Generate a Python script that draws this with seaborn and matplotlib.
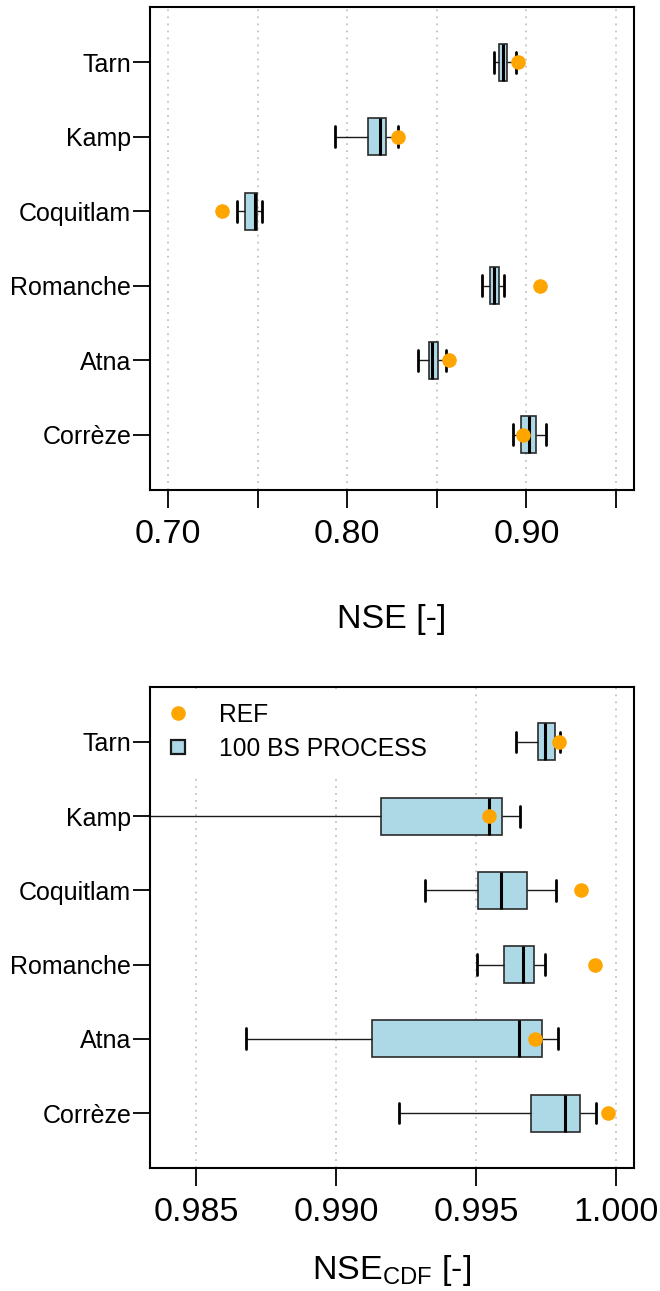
import numpy as np
import pandas as pd
import matplotlib
matplotlib.use("Agg")
import matplotlib.pyplot as plt
from matplotlib.lines import Line2D
import seaborn as sns

# Catchments, listed top to bottom
catchments = ["Tarn", "Kamp", "Coquitlam", "Romanche", "Atna", "Corrèze"]

# NSE: five-number summaries of the 100 bootstrap runs and the reference run
nse_min = [0.8818, 0.7932, 0.7386, 0.8751, 0.8394, 0.8926]
nse_q1 = [0.8846, 0.8118, 0.7432, 0.8797, 0.8454, 0.8972]
nse_med = [0.8870, 0.8185, 0.7485, 0.8819, 0.8474, 0.9013]
nse_q3 = [0.8892, 0.8215, 0.7497, 0.8846, 0.8507, 0.9053]
nse_max = [0.8940, 0.8281, 0.7527, 0.8873, 0.8552, 0.9111]
nse_ref = [0.8955, 0.8283, 0.7302, 0.9074, 0.8567, 0.8983]

# NSE_CDF: same layout
cdf_min = [0.99644, 0.98200, 0.99318, 0.99505, 0.98679, 0.99226]
cdf_q1 = [0.99720, 0.99159, 0.99506, 0.99599, 0.99130, 0.99698]
cdf_med = [0.99747, 0.99545, 0.99588, 0.99668, 0.99655, 0.99819]
cdf_q3 = [0.99781, 0.99594, 0.99683, 0.99707, 0.99736, 0.99872]
cdf_max = [0.99801, 0.99658, 0.99786, 0.99747, 0.99791, 0.99928]
cdf_ref = [0.99798, 0.99546, 0.99875, 0.99923, 0.99712, 0.99970]

nse_ticks = [0.70, 0.75, 0.80, 0.85, 0.90, 0.95]
nse_ticklabels = ["0.70", "", "0.80", "", "0.90", ""]
cdf_ticks = [0.985, 0.990, 0.995, 1.000]
cdf_ticklabels = ["0.985", "0.990", "0.995", "1.000"]

BOX_FILL = "#ADD8E6"
REF_COLOR = "#FFA500"

sns.set_theme(style="ticks")
plt.rcParams["font.family"] = ["Liberation Sans", "DejaVu Sans"]
plt.rcParams["mathtext.default"] = "regular"
plt.rcParams["text.color"] = "black"
plt.rcParams["axes.labelcolor"] = "black"

fig = plt.figure(figsize=(6.6, 12.91), dpi=100)
fig.patch.set_facecolor("white")
W, H = 660, 1291
ax_top = fig.add_axes([150 / W, 1 - 490 / H, 484 / W, 483 / H])
ax_bot = fig.add_axes([150 / W, 1 - 1168 / H, 484 / W, 481 / H])


def draw_panel(ax, lo, q1, med, q3, hi, ref, xlim, ticks, ticklabels,
               xlabel, labelpad):
    values = np.column_stack([lo, q1, med, q3, hi]).ravel()
    df = pd.DataFrame({"catchment": np.repeat(catchments, 5), "value": values})
    sns.boxplot(
        data=df, x="value", y="catchment", order=catchments, orient="h",
        whis=(0, 100), width=0.5, color=BOX_FILL, saturation=1,
        linecolor="#2b2b2b", linewidth=1.2, showfliers=False,
        medianprops=dict(color="black", linewidth=2.2),
        whiskerprops=dict(color="#1a1a1a", linewidth=1.0),
        capprops=dict(color="black", linewidth=2.0),
        capwidths=0.28, ax=ax, zorder=2,
    )
    sns.stripplot(
        x=ref, y=catchments, order=catchments, orient="h", jitter=False,
        color=REF_COLOR, size=10.5, linewidth=0, ax=ax, zorder=4,
    )
    ax.set_xlim(*xlim)
    ax.set_ylim(5.74, -0.74)
    ax.set_xticks(ticks)
    ax.set_xticklabels(ticklabels)
    ax.grid(axis="x", color="#c4c4c4", linestyle=(0, (1, 2.9)), linewidth=1.3)
    ax.grid(axis="y", visible=False)
    ax.set_axisbelow(True)
    ax.tick_params(axis="x", length=13, width=1.3, pad=8, labelsize=24.5,
                   colors="black", bottom=True)
    ax.tick_params(axis="y", length=12, width=1.3, pad=1.5, labelsize=18,
                   colors="black", left=True)
    for sp in ax.spines.values():
        sp.set_color("black")
        sp.set_linewidth(1.5)
        sp.set_visible(True)
    ax.set_ylabel("")
    ax.set_xlabel(xlabel, fontsize=24.5, labelpad=labelpad, color="black")


draw_panel(ax_top, nse_min, nse_q1, nse_med, nse_q3, nse_max, nse_ref,
           (0.69, 0.96), nse_ticks, nse_ticklabels, "NSE [-]", 39)
draw_panel(ax_bot, cdf_min, cdf_q1, cdf_med, cdf_q3, cdf_max, cdf_ref,
           (0.98336, 1.00064), cdf_ticks, cdf_ticklabels, "NSE$_{CDF}$ [-]", 18)

handles = [
    Line2D([], [], marker="o", linestyle="none", markerfacecolor=REF_COLOR,
           markeredgecolor="none", markersize=10.5),
    Line2D([], [], marker="s", linestyle="none", markerfacecolor=BOX_FILL,
           markeredgecolor="#1a1a1a", markeredgewidth=1.6, markersize=9.5),
]
leg = ax_bot.legend(
    handles, ["REF", "100 BS PROCESS"], loc="upper left", bbox_to_anchor=(0, 1),
    borderaxespad=0.1, fontsize=17.7, frameon=True, facecolor="white",
    edgecolor="none", framealpha=1, fancybox=False, borderpad=0.55,
    handlelength=1.0, handletextpad=1.15, labelspacing=0.4,
)
for t in leg.get_texts():
    t.set_color("black")
leg.set_zorder(5)

fig.savefig("out.png", dpi=100, facecolor="white")
